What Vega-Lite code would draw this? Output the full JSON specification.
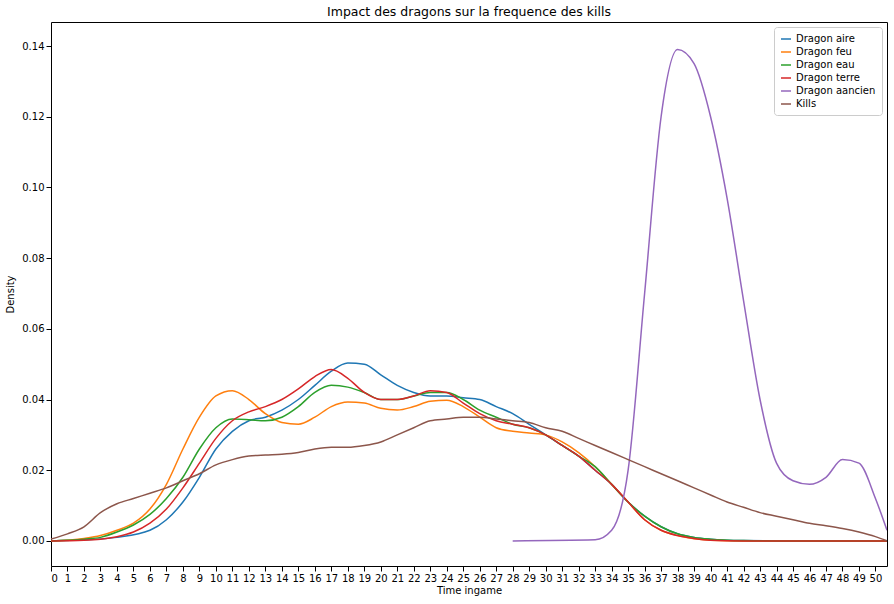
{"$schema":"https://vega.github.io/schema/vega-lite/v6.json","width":836,"height":544,"autosize":"none","padding":{"left":51,"top":22,"right":7,"bottom":38},
"title":{"text":"Impact des dragons sur la frequence des kills","fontWeight":"normal","fontSize":12.5,"font":"DejaVu Sans","offset":4},
"config":{"font":"DejaVu Sans","view":{"stroke":"black"},"axis":{"grid":false,"domain":false,"tickColor":"black","labelColor":"black","titleColor":"black","labelFontSize":10,"titleFontSize":10,"titleFontWeight":"normal"}},
"datasets":{"d":[]},
"data":{"values":[
{"s":"Dragon aire","x":0,"y":0},{"s":"Dragon aire","x":2,"y":0.0003},{"s":"Dragon aire","x":4,"y":0.001},{"s":"Dragon aire","x":6,"y":0.003},{"s":"Dragon aire","x":7,"y":0.006},{"s":"Dragon aire","x":8,"y":0.011},{"s":"Dragon aire","x":9,"y":0.018},{"s":"Dragon aire","x":10,"y":0.026},{"s":"Dragon aire","x":11,"y":0.031},{"s":"Dragon aire","x":12,"y":0.034},{"s":"Dragon aire","x":13,"y":0.035},{"s":"Dragon aire","x":14,"y":0.037},{"s":"Dragon aire","x":15,"y":0.040},{"s":"Dragon aire","x":16,"y":0.044},{"s":"Dragon aire","x":17,"y":0.048},{"s":"Dragon aire","x":18,"y":0.0503},{"s":"Dragon aire","x":19,"y":0.050},{"s":"Dragon aire","x":20,"y":0.047},{"s":"Dragon aire","x":21,"y":0.044},{"s":"Dragon aire","x":22,"y":0.042},{"s":"Dragon aire","x":23,"y":0.041},{"s":"Dragon aire","x":24,"y":0.041},{"s":"Dragon aire","x":25,"y":0.0405},{"s":"Dragon aire","x":26,"y":0.040},{"s":"Dragon aire","x":27,"y":0.038},{"s":"Dragon aire","x":28,"y":0.036},{"s":"Dragon aire","x":29,"y":0.033},{"s":"Dragon aire","x":30,"y":0.030},{"s":"Dragon aire","x":31,"y":0.027},{"s":"Dragon aire","x":32,"y":0.024},{"s":"Dragon aire","x":33,"y":0.020},{"s":"Dragon aire","x":34,"y":0.016},{"s":"Dragon aire","x":35,"y":0.011},{"s":"Dragon aire","x":36,"y":0.007},{"s":"Dragon aire","x":37,"y":0.004},{"s":"Dragon aire","x":38,"y":0.002},{"s":"Dragon aire","x":39,"y":0.001},{"s":"Dragon aire","x":40,"y":0.0005},{"s":"Dragon aire","x":42,"y":0.0001},{"s":"Dragon aire","x":45,"y":0},{"s":"Dragon aire","x":50.7,"y":0},
{"s":"Dragon feu","x":0,"y":0},{"s":"Dragon feu","x":2,"y":0.0007},{"s":"Dragon feu","x":3,"y":0.0015},{"s":"Dragon feu","x":4,"y":0.003},{"s":"Dragon feu","x":5,"y":0.005},{"s":"Dragon feu","x":6,"y":0.009},{"s":"Dragon feu","x":7,"y":0.016},{"s":"Dragon feu","x":8,"y":0.026},{"s":"Dragon feu","x":9,"y":0.035},{"s":"Dragon feu","x":10,"y":0.041},{"s":"Dragon feu","x":11,"y":0.0425},{"s":"Dragon feu","x":12,"y":0.040},{"s":"Dragon feu","x":13,"y":0.036},{"s":"Dragon feu","x":14,"y":0.0335},{"s":"Dragon feu","x":15,"y":0.033},{"s":"Dragon feu","x":16,"y":0.035},{"s":"Dragon feu","x":17,"y":0.038},{"s":"Dragon feu","x":18,"y":0.0393},{"s":"Dragon feu","x":19,"y":0.039},{"s":"Dragon feu","x":20,"y":0.0375},{"s":"Dragon feu","x":21,"y":0.037},{"s":"Dragon feu","x":22,"y":0.038},{"s":"Dragon feu","x":23,"y":0.0395},{"s":"Dragon feu","x":24,"y":0.0398},{"s":"Dragon feu","x":25,"y":0.038},{"s":"Dragon feu","x":26,"y":0.035},{"s":"Dragon feu","x":27,"y":0.032},{"s":"Dragon feu","x":28,"y":0.031},{"s":"Dragon feu","x":29,"y":0.0305},{"s":"Dragon feu","x":30,"y":0.030},{"s":"Dragon feu","x":31,"y":0.028},{"s":"Dragon feu","x":32,"y":0.025},{"s":"Dragon feu","x":33,"y":0.021},{"s":"Dragon feu","x":34,"y":0.016},{"s":"Dragon feu","x":35,"y":0.011},{"s":"Dragon feu","x":36,"y":0.006},{"s":"Dragon feu","x":37,"y":0.003},{"s":"Dragon feu","x":38,"y":0.0015},{"s":"Dragon feu","x":39,"y":0.0006},{"s":"Dragon feu","x":40,"y":0.0002},{"s":"Dragon feu","x":42,"y":0},{"s":"Dragon feu","x":50.7,"y":0},
{"s":"Dragon eau","x":0,"y":0},{"s":"Dragon eau","x":2,"y":0.0005},{"s":"Dragon eau","x":3,"y":0.001},{"s":"Dragon eau","x":4,"y":0.0025},{"s":"Dragon eau","x":5,"y":0.0045},{"s":"Dragon eau","x":6,"y":0.0075},{"s":"Dragon eau","x":7,"y":0.012},{"s":"Dragon eau","x":8,"y":0.018},{"s":"Dragon eau","x":9,"y":0.026},{"s":"Dragon eau","x":10,"y":0.032},{"s":"Dragon eau","x":11,"y":0.0345},{"s":"Dragon eau","x":12,"y":0.0343},{"s":"Dragon eau","x":13,"y":0.034},{"s":"Dragon eau","x":14,"y":0.035},{"s":"Dragon eau","x":15,"y":0.038},{"s":"Dragon eau","x":16,"y":0.042},{"s":"Dragon eau","x":17,"y":0.044},{"s":"Dragon eau","x":18,"y":0.0435},{"s":"Dragon eau","x":19,"y":0.042},{"s":"Dragon eau","x":20,"y":0.040},{"s":"Dragon eau","x":21,"y":0.040},{"s":"Dragon eau","x":22,"y":0.041},{"s":"Dragon eau","x":23,"y":0.042},{"s":"Dragon eau","x":24,"y":0.042},{"s":"Dragon eau","x":25,"y":0.040},{"s":"Dragon eau","x":26,"y":0.037},{"s":"Dragon eau","x":27,"y":0.035},{"s":"Dragon eau","x":28,"y":0.033},{"s":"Dragon eau","x":29,"y":0.032},{"s":"Dragon eau","x":30,"y":0.030},{"s":"Dragon eau","x":31,"y":0.027},{"s":"Dragon eau","x":32,"y":0.024},{"s":"Dragon eau","x":33,"y":0.021},{"s":"Dragon eau","x":34,"y":0.016},{"s":"Dragon eau","x":35,"y":0.011},{"s":"Dragon eau","x":36,"y":0.007},{"s":"Dragon eau","x":37,"y":0.004},{"s":"Dragon eau","x":38,"y":0.002},{"s":"Dragon eau","x":39,"y":0.001},{"s":"Dragon eau","x":40,"y":0.0005},{"s":"Dragon eau","x":42,"y":0.0001},{"s":"Dragon eau","x":44,"y":0},{"s":"Dragon eau","x":50.7,"y":0},
{"s":"Dragon terre","x":0,"y":0},{"s":"Dragon terre","x":2,"y":0.0002},{"s":"Dragon terre","x":3,"y":0.0005},{"s":"Dragon terre","x":4,"y":0.0012},{"s":"Dragon terre","x":5,"y":0.0025},{"s":"Dragon terre","x":6,"y":0.005},{"s":"Dragon terre","x":7,"y":0.009},{"s":"Dragon terre","x":8,"y":0.015},{"s":"Dragon terre","x":9,"y":0.022},{"s":"Dragon terre","x":10,"y":0.029},{"s":"Dragon terre","x":11,"y":0.034},{"s":"Dragon terre","x":12,"y":0.0365},{"s":"Dragon terre","x":13,"y":0.038},{"s":"Dragon terre","x":14,"y":0.040},{"s":"Dragon terre","x":15,"y":0.043},{"s":"Dragon terre","x":16,"y":0.0465},{"s":"Dragon terre","x":17,"y":0.0485},{"s":"Dragon terre","x":18,"y":0.046},{"s":"Dragon terre","x":19,"y":0.042},{"s":"Dragon terre","x":20,"y":0.040},{"s":"Dragon terre","x":21,"y":0.040},{"s":"Dragon terre","x":22,"y":0.041},{"s":"Dragon terre","x":23,"y":0.0425},{"s":"Dragon terre","x":24,"y":0.042},{"s":"Dragon terre","x":25,"y":0.039},{"s":"Dragon terre","x":26,"y":0.036},{"s":"Dragon terre","x":27,"y":0.034},{"s":"Dragon terre","x":28,"y":0.033},{"s":"Dragon terre","x":29,"y":0.032},{"s":"Dragon terre","x":30,"y":0.030},{"s":"Dragon terre","x":31,"y":0.027},{"s":"Dragon terre","x":32,"y":0.024},{"s":"Dragon terre","x":33,"y":0.020},{"s":"Dragon terre","x":34,"y":0.016},{"s":"Dragon terre","x":35,"y":0.011},{"s":"Dragon terre","x":36,"y":0.006},{"s":"Dragon terre","x":37,"y":0.003},{"s":"Dragon terre","x":38,"y":0.0015},{"s":"Dragon terre","x":39,"y":0.0007},{"s":"Dragon terre","x":40,"y":0.0002},{"s":"Dragon terre","x":42,"y":0},{"s":"Dragon terre","x":50.7,"y":0},
{"s":"Dragon aancien","x":28,"y":0},{"s":"Dragon aancien","x":33,"y":0.0003},{"s":"Dragon aancien","x":34,"y":0.003},{"s":"Dragon aancien","x":35,"y":0.02},{"s":"Dragon aancien","x":36,"y":0.07},{"s":"Dragon aancien","x":37,"y":0.12},{"s":"Dragon aancien","x":38,"y":0.139},{"s":"Dragon aancien","x":39,"y":0.135},{"s":"Dragon aancien","x":40,"y":0.12},{"s":"Dragon aancien","x":41,"y":0.097},{"s":"Dragon aancien","x":42,"y":0.068},{"s":"Dragon aancien","x":43,"y":0.04},{"s":"Dragon aancien","x":44,"y":0.022},{"s":"Dragon aancien","x":45,"y":0.017},{"s":"Dragon aancien","x":46,"y":0.016},{"s":"Dragon aancien","x":47,"y":0.018},{"s":"Dragon aancien","x":48,"y":0.023},{"s":"Dragon aancien","x":49,"y":0.022},{"s":"Dragon aancien","x":50,"y":0.012},{"s":"Dragon aancien","x":50.7,"y":0.003},
{"s":"Kills","x":0,"y":0.0005},{"s":"Kills","x":1,"y":0.002},{"s":"Kills","x":2,"y":0.004},{"s":"Kills","x":3,"y":0.008},{"s":"Kills","x":4,"y":0.0105},{"s":"Kills","x":5,"y":0.012},{"s":"Kills","x":6,"y":0.0135},{"s":"Kills","x":7,"y":0.015},{"s":"Kills","x":8,"y":0.017},{"s":"Kills","x":9,"y":0.019},{"s":"Kills","x":10,"y":0.0215},{"s":"Kills","x":11,"y":0.023},{"s":"Kills","x":12,"y":0.024},{"s":"Kills","x":13,"y":0.0243},{"s":"Kills","x":14,"y":0.0245},{"s":"Kills","x":15,"y":0.025},{"s":"Kills","x":16,"y":0.026},{"s":"Kills","x":17,"y":0.0265},{"s":"Kills","x":18,"y":0.0265},{"s":"Kills","x":19,"y":0.027},{"s":"Kills","x":20,"y":0.028},{"s":"Kills","x":21,"y":0.03},{"s":"Kills","x":22,"y":0.032},{"s":"Kills","x":23,"y":0.034},{"s":"Kills","x":24,"y":0.0345},{"s":"Kills","x":25,"y":0.035},{"s":"Kills","x":26,"y":0.035},{"s":"Kills","x":27,"y":0.0345},{"s":"Kills","x":28,"y":0.034},{"s":"Kills","x":29,"y":0.0335},{"s":"Kills","x":30,"y":0.032},{"s":"Kills","x":31,"y":0.031},{"s":"Kills","x":32,"y":0.029},{"s":"Kills","x":33,"y":0.027},{"s":"Kills","x":34,"y":0.025},{"s":"Kills","x":35,"y":0.023},{"s":"Kills","x":36,"y":0.021},{"s":"Kills","x":37,"y":0.019},{"s":"Kills","x":38,"y":0.017},{"s":"Kills","x":39,"y":0.015},{"s":"Kills","x":40,"y":0.013},{"s":"Kills","x":41,"y":0.011},{"s":"Kills","x":42,"y":0.0095},{"s":"Kills","x":43,"y":0.008},{"s":"Kills","x":44,"y":0.007},{"s":"Kills","x":45,"y":0.006},{"s":"Kills","x":46,"y":0.005},{"s":"Kills","x":47,"y":0.0043},{"s":"Kills","x":48,"y":0.0035},{"s":"Kills","x":49,"y":0.0025},{"s":"Kills","x":50,"y":0.0012},{"s":"Kills","x":50.7,"y":0}
]},
"mark":{"type":"line","interpolate":"monotone","strokeWidth":1.5,"clip":true},
"encoding":{
"x":{"field":"x","type":"quantitative","title":"Time ingame","scale":{"domain":[0,50.7],"nice":false,"zero":false},"axis":{"values":[0,1,2,3,4,5,6,7,8,9,10,11,12,13,14,15,16,17,18,19,20,21,22,23,24,25,26,27,28,29,30,31,32,33,34,35,36,37,38,39,40,41,42,43,44,45,46,47,48,49,50],"labelAngle":0,"titlePadding":2}},
"y":{"field":"y","type":"quantitative","title":"Density","scale":{"domain":[-0.0071,0.1468],"nice":false,"zero":false},"axis":{"values":[0,0.02,0.04,0.06,0.08,0.1,0.12,0.14],"format":".2f","titlePadding":6}},
"color":{"field":"s","type":"nominal","title":null,"sort":["Dragon aire","Dragon feu","Dragon eau","Dragon terre","Dragon aancien","Kills"],"scale":{"domain":["Dragon aire","Dragon feu","Dragon eau","Dragon terre","Dragon aancien","Kills"],"range":["#1f77b4","#ff7f0e","#2ca02c","#d62728","#9467bd","#8c564b"]},"legend":{"orient":"top-right","symbolType":"stroke","symbolStrokeWidth":1.5,"labelFontSize":10,"fillColor":"white","strokeColor":"#cccccc","padding":6,"cornerRadius":3,"offset":5,"rowPadding":2}}
}}
